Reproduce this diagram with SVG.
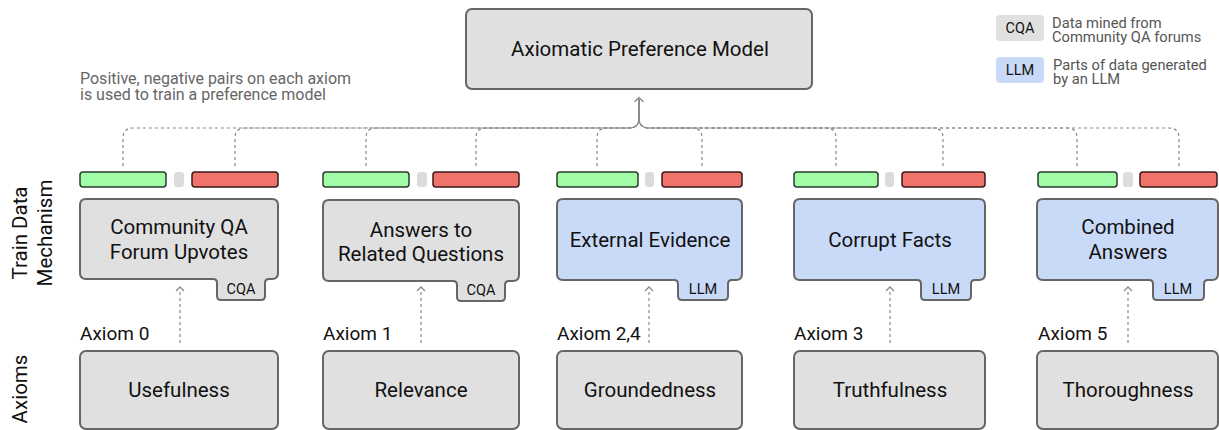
<svg xmlns="http://www.w3.org/2000/svg" width="1219" height="430" viewBox="0 0 1219 430">
<style>
text{font-family:Roboto,"Liberation Sans",sans-serif;fill:#111}
.nt{font-size:20.5px;text-anchor:middle}
.ax{font-size:19px}
.tab{font-size:14.5px;text-anchor:middle}
.note{font-size:16px;fill:#666}
.leg{font-size:14.7px;fill:#555}
.side{font-size:20.5px;text-anchor:middle}
.gray{fill:#e0e0e0;stroke:#666;stroke-width:2}
.blue{fill:#c9daf8;stroke:#666;stroke-width:2}
.pos{fill:#a0fca6;stroke:#2b3b2b;stroke-width:1.5}
.neg{fill:#ef736a;stroke:#3b1a1a;stroke-width:1.5}
.mid{fill:#dcdcdc}
.dash{fill:none;stroke:#8a8a8a;stroke-width:1.2;stroke-dasharray:3 3}
.head{fill:none;stroke:#8a8a8a;stroke-width:1.3}
</style>
<g id="legend">
<rect x="996" y="15" width="48" height="26" rx="4" fill="#e0e0e0"/>
<text class="tab" x="1020" y="33">CQA</text>
<text class="leg" x="1052" y="27.5">Data mined from</text>
<text class="leg" x="1052" y="42">Community QA forums</text>
<rect x="996" y="57" width="48" height="26" rx="4" fill="#c9daf8"/>
<text class="tab" x="1020" y="75">LLM</text>
<text class="leg" x="1053" y="69.5">Parts of data generated</text>
<text class="leg" x="1053" y="84">by an LLM</text>
</g>
<g id="note">
<text class="note" x="80" y="83.5">Positive, negative pairs on each axiom</text>
<text class="note" x="80" y="100">is used to train a preference model</text>
</g>
<g id="side-labels">
<text class="side" transform="translate(27,233) rotate(-90)">Train Data</text>
<text class="side" transform="translate(52,233) rotate(-90)">Mechanism</text>
<text class="side" transform="translate(27,389) rotate(-90)">Axioms</text>
</g>
<g id="apm">
<rect class="gray" x="466" y="9" width="346" height="80" rx="6"/>
<text class="nt" x="640" y="56">Axiomatic Preference Model</text>
</g>
<g id="connectors">
<path class="dash" d="M123,166 V138 Q123,128 133,128 H629 Q639,128 639,118 V99"/>
<path class="dash" d="M235,166 V138 Q235,128 245,128 H629 Q639,128 639,118 V99"/>
<path class="dash" d="M366,166 V138 Q366,128 376,128 H629 Q639,128 639,118 V99"/>
<path class="dash" d="M476,166 V138 Q476,128 486,128 H629 Q639,128 639,118 V99"/>
<path class="dash" d="M597,166 V138 Q597,128 607,128 H629 Q639,128 639,118 V99"/>
<path class="dash" d="M702,166 V138 Q702,128 692,128 H649 Q639,128 639,118 V99"/>
<path class="dash" d="M836,166 V138 Q836,128 826,128 H649 Q639,128 639,118 V99"/>
<path class="dash" d="M943,166 V138 Q943,128 933,128 H649 Q639,128 639,118 V99"/>
<path class="dash" d="M1077,166 V138 Q1077,128 1067,128 H649 Q639,128 639,118 V99"/>
<path class="dash" d="M1179,166 V138 Q1179,128 1169,128 H649 Q639,128 639,118 V99"/>
<path class="head" d="M634.5,102 L639,97.5 L643.5,102"/>
<path class="dash" d="M180,343 V289"/><path class="head" d="M176,291 L180,287 L184,291"/>
<path class="dash" d="M421,343 V289"/><path class="head" d="M417,291 L421,287 L425,291"/>
<path class="dash" d="M649,343 V289"/><path class="head" d="M645,291 L649,287 L653,291"/>
<path class="dash" d="M890,343 V289"/><path class="head" d="M886,291 L890,287 L894,291"/>
<path class="dash" d="M1128,343 V289"/><path class="head" d="M1124,291 L1128,287 L1132,291"/>
</g>
<g id="pairs">
<rect class="pos" x="80" y="172" width="86" height="15" rx="3"/><rect class="mid" x="174" y="172" width="10" height="15" rx="3"/><rect class="neg" x="192" y="172" width="86" height="15" rx="3"/>
<rect class="pos" x="323" y="172" width="86" height="15" rx="3"/><rect class="mid" x="417" y="172" width="10" height="15" rx="3"/><rect class="neg" x="433" y="172" width="86" height="15" rx="3"/>
<rect class="pos" x="557" y="172" width="81" height="15" rx="3"/><rect class="mid" x="645" y="172" width="9" height="15" rx="3"/><rect class="neg" x="662" y="172" width="80" height="15" rx="3"/>
<rect class="pos" x="794" y="172" width="84" height="15" rx="3"/><rect class="mid" x="885" y="172" width="9" height="15" rx="3"/><rect class="neg" x="902" y="172" width="83" height="15" rx="3"/>
<rect class="pos" x="1038" y="172" width="79" height="15" rx="3"/><rect class="mid" x="1123" y="172" width="10" height="15" rx="3"/><rect class="neg" x="1140" y="172" width="77" height="15" rx="3"/>
</g>
<g id="mech-cqa-forum">
<path class="gray" d="M86,199 H272 Q278,199 278,205 V273 Q278,279 272,279 H269 Q265,279 265,283 V296 Q265,300 261,300 H221 Q217,300 217,296 V283 Q217,279 213,279 H86 Q80,279 80,273 V205 Q80,199 86,199 Z"/>
<text class="nt" x="179" y="234">Community QA</text>
<text class="nt" x="179" y="259">Forum Upvotes</text>
<text class="tab" x="241" y="294">CQA</text>
</g>
<g id="mech-related">
<path class="gray" d="M329,200 H513 Q519,200 519,206 V275 Q519,281 513,281 H509 Q505,281 505,285 V297 Q505,301 501,301 H461 Q457,301 457,297 V285 Q457,281 453,281 H329 Q323,281 323,275 V206 Q323,200 329,200 Z"/>
<text class="nt" x="421" y="237">Answers to</text>
<text class="nt" x="421" y="261">Related Questions</text>
<text class="tab" x="481" y="295">CQA</text>
</g>
<g id="mech-evidence">
<path class="blue" d="M563,199 H736 Q742,199 742,205 V274 Q742,280 736,280 H732 Q728,280 728,284 V296 Q728,300 724,300 H682 Q678,300 678,296 V284 Q678,280 674,280 H563 Q557,280 557,274 V205 Q557,199 563,199 Z"/>
<text class="nt" x="650" y="247">External Evidence</text>
<text class="tab" x="703" y="294">LLM</text>
</g>
<g id="mech-corrupt">
<path class="blue" d="M800,199 H979 Q985,199 985,205 V274 Q985,280 979,280 H975 Q971,280 971,284 V296 Q971,300 967,300 H925 Q921,300 921,296 V284 Q921,280 917,280 H800 Q794,280 794,274 V205 Q794,199 800,199 Z"/>
<text class="nt" x="890" y="247">Corrupt Facts</text>
<text class="tab" x="946" y="294">LLM</text>
</g>
<g id="mech-combined">
<path class="blue" d="M1043,199 H1212 Q1218,199 1218,205 V274 Q1218,280 1212,280 H1208 Q1204,280 1204,284 V296 Q1204,300 1200,300 H1157 Q1153,300 1153,296 V284 Q1153,280 1149,280 H1043 Q1037,280 1037,274 V205 Q1037,199 1043,199 Z"/>
<text class="nt" x="1128" y="234">Combined</text>
<text class="nt" x="1128" y="259">Answers</text>
<text class="tab" x="1178" y="294">LLM</text>
</g>
<g id="axiom-0">
<text class="ax" x="80" y="340">Axiom 0</text>
<rect class="gray" x="80" y="351" width="198" height="78" rx="6"/>
<text class="nt" x="179" y="397">Usefulness</text>
</g>
<g id="axiom-1">
<text class="ax" x="323" y="340">Axiom 1</text>
<rect class="gray" x="323" y="351" width="196" height="78" rx="6"/>
<text class="nt" x="421" y="397">Relevance</text>
</g>
<g id="axiom-2-4">
<text class="ax" x="557" y="340">Axiom 2,4</text>
<rect class="gray" x="557" y="351" width="185" height="78" rx="6"/>
<text class="nt" x="650" y="397">Groundedness</text>
</g>
<g id="axiom-3">
<text class="ax" x="794" y="340">Axiom 3</text>
<rect class="gray" x="794" y="351" width="191" height="78" rx="6"/>
<text class="nt" x="890" y="397">Truthfulness</text>
</g>
<g id="axiom-5">
<text class="ax" x="1038" y="340">Axiom 5</text>
<rect class="gray" x="1037" y="351" width="181" height="78" rx="6"/>
<text class="nt" x="1128" y="397">Thoroughness</text>
</g>
</svg>
